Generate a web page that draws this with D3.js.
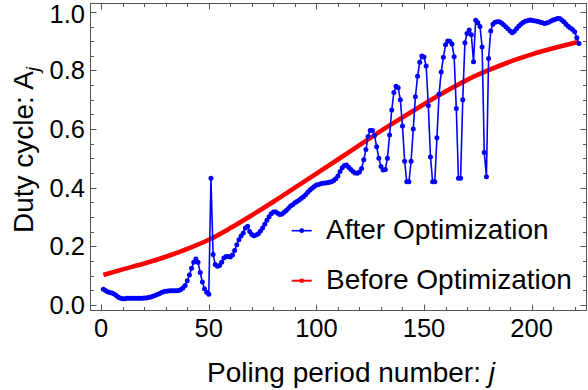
<!DOCTYPE html>
<html><head><meta charset="utf-8">
<script src="https://cdn.jsdelivr.net/npm/d3@7"></script>
<style>body{margin:0;background:#fff}svg{display:block}text{font-family:"Liberation Sans",Arial,sans-serif}</style>
</head><body><svg id="c" width="588" height="390"></svg>
<script>
// After optimization: duty cycle A_j for j = 1..222
const afterValues = [
0.053,0.049,0.045,0.042,0.040,0.037,0.032,0.026,0.022,0.021,
0.021,0.022,0.022,0.022,0.022,0.022,0.022,0.022,0.022,0.023,
0.023,0.025,0.027,0.029,0.032,0.035,0.038,0.042,0.045,0.046,
0.047,0.048,0.048,0.048,0.048,0.049,0.052,0.057,0.066,0.082,
0.102,0.125,0.145,0.156,0.145,0.110,0.078,0.055,0.043,0.036,
0.432,0.172,0.138,0.132,0.134,0.145,0.160,0.165,0.165,0.163,
0.170,0.185,0.205,0.222,0.235,0.245,0.262,0.268,0.250,0.240,
0.236,0.238,0.243,0.252,0.262,0.275,0.289,0.301,0.311,0.317,
0.318,0.313,0.308,0.310,0.316,0.322,0.330,0.337,0.342,0.348,
0.353,0.358,0.364,0.369,0.376,0.384,0.392,0.398,0.404,0.409,
0.411,0.413,0.415,0.416,0.417,0.418,0.420,0.424,0.430,0.440,
0.455,0.468,0.476,0.477,0.470,0.462,0.455,0.450,0.449,0.453,
0.465,0.495,0.530,0.575,0.595,0.595,0.578,0.540,0.500,0.472,
0.460,0.462,0.500,0.580,0.665,0.725,0.746,0.741,0.700,0.610,
0.490,0.420,0.420,0.490,0.600,0.710,0.780,0.828,0.849,0.846,
0.815,0.680,0.505,0.420,0.420,0.570,0.720,0.795,0.845,0.888,
0.901,0.900,0.890,0.847,0.670,0.432,0.432,0.700,0.895,0.926,
0.938,0.922,0.830,0.971,0.963,0.950,0.880,0.520,0.437,0.841,
0.935,0.958,0.965,0.966,0.966,0.962,0.956,0.949,0.942,0.935,
0.929,0.934,0.942,0.951,0.958,0.964,0.968,0.970,0.972,0.971,
0.970,0.969,0.967,0.965,0.963,0.960,0.962,0.965,0.969,0.972,
0.975,0.977,0.977,0.972,0.966,0.958,0.951,0.945,0.940,0.932,
0.912,0.892];
// Before optimization: sampled readings (j, A_j)
const beforeJ = [1,10,20,30,40,50,60,70,80,90,100,110,120,130,140,150,160,170,180,190,200,210,222];
const beforeValues = [0.102,0.121,0.141,0.164,0.191,0.222,0.262,0.306,0.352,0.400,0.448,0.496,0.545,0.594,0.640,0.685,0.728,0.768,0.801,0.830,0.855,0.876,0.898];
const xTicks = [0,50,100,150,200];
const yTicks = [0.0,0.2,0.4,0.6,0.8,1.0];
const seriesNames = ["After Optimization","Before Optimization"];

const svg = d3.select("#c");
const L=90.5, R=586.5, T=3.5, B=310.5;
const x = d3.scaleLinear().domain([-4.97,225.5]).range([L,R]);
const y = d3.scaleLinear().domain([-0.0194,1.0286]).range([B,T]);
const frameColor="#555";

// frame
svg.append("rect").attr("x",L).attr("y",T).attr("width",R-L).attr("height",B-T)
  .attr("fill","none").attr("stroke",frameColor).attr("stroke-width",1);

const xMinor = d3.range(0,226,10);
const yMinor = d3.range(0,1.001,0.05);
const g = svg.append("g").attr("stroke",frameColor).attr("stroke-width",1);
xMinor.forEach(v=>{
  const len = (v%50===0)?6:3.5;
  const px = Math.round(x(v))+0.5;
  g.append("line").attr("x1",px).attr("x2",px).attr("y1",B).attr("y2",B-len);
  g.append("line").attr("x1",px).attr("x2",px).attr("y1",T).attr("y2",T+len);
});
yMinor.forEach(v=>{
  const major = Math.abs(v*5-Math.round(v*5))<1e-6;
  const len = major?6:3.5;
  const py = Math.round(y(v))+0.5;
  g.append("line").attr("x1",L).attr("x2",L+len).attr("y1",py).attr("y2",py);
  g.append("line").attr("x1",R).attr("x2",R-len).attr("y1",py).attr("y2",py);
});

// tick labels
svg.append("g").selectAll("text").data(xTicks).join("text")
  .attr("x",d=>x(d)).attr("y",337).attr("text-anchor","middle")
  .attr("font-size",25.5).attr("fill","#000").text(d=>d);
svg.append("g").selectAll("text").data(yTicks).join("text")
  .attr("x",85).attr("y",d=>Math.max(y(d)+9,23.4)).attr("text-anchor","end")
  .attr("font-size",25.5).attr("fill","#000").text(d=>d.toFixed(1));

// axis titles
const xt = svg.append("text").attr("x",351).attr("y",382).attr("text-anchor","middle")
  .attr("font-size",28).attr("fill","#000");
xt.append("tspan").text("Poling period number: ");
xt.append("tspan").attr("font-style","italic").text("j");
const yt = svg.append("text").attr("transform","translate(33,150) rotate(-90)")
  .attr("text-anchor","middle").attr("font-size",28).attr("fill","#000");
yt.append("tspan").text("Duty cycle: A");
yt.append("tspan").attr("font-style","italic").attr("font-size",19).attr("dy",6).text("j");

// data
const clip = svg.append("defs").append("clipPath").attr("id","pc").append("rect")
  .attr("x",L).attr("y",T).attr("width",R-L).attr("height",B-T);
const plot = svg.append("g").attr("clip-path","url(#pc)");

const before = beforeJ.map((j,i)=>[j,beforeValues[i]]);
plot.append("path").datum(before)
  .attr("d",d3.line().x(d=>x(d[0])).y(d=>y(d[1])).curve(d3.curveMonotoneX))
  .attr("fill","none").attr("stroke","#ff0000").attr("stroke-width",4.6);

const after = afterValues.map((v,i)=>[i+1,v]);
plot.append("path").datum(after)
  .attr("d",d3.line().x(d=>x(d[0])).y(d=>y(d[1])))
  .attr("fill","none").attr("stroke","#0000ff").attr("stroke-width",1.6);
plot.append("g").selectAll("circle").data(after).join("circle")
  .attr("cx",d=>x(d[0])).attr("cy",d=>y(d[1])).attr("r",2.5).attr("fill","#0000ff");

// legend
const leg = svg.append("g");
const colors=["#0000ff","#ff0000"];
const ly=[230.7,280.7];
seriesNames.forEach((n,i)=>{
  leg.append("line").attr("x1",291.7).attr("x2",311.7).attr("y1",ly[i]).attr("y2",ly[i])
    .attr("stroke",colors[i]).attr("stroke-width",i===0?1.6:2);
  if(i===0) leg.append("circle").attr("cx",301.7).attr("cy",ly[i]).attr("r",2.4).attr("fill",colors[i]);
  else leg.append("rect").attr("x",299.7).attr("y",ly[i]-2).attr("width",4).attr("height",4).attr("fill",colors[i]);
  leg.append("text").attr("x",326).attr("y",ly[i]+7.8).attr("font-size",28).attr("fill","#000").text(n);
});
</script></body></html>
